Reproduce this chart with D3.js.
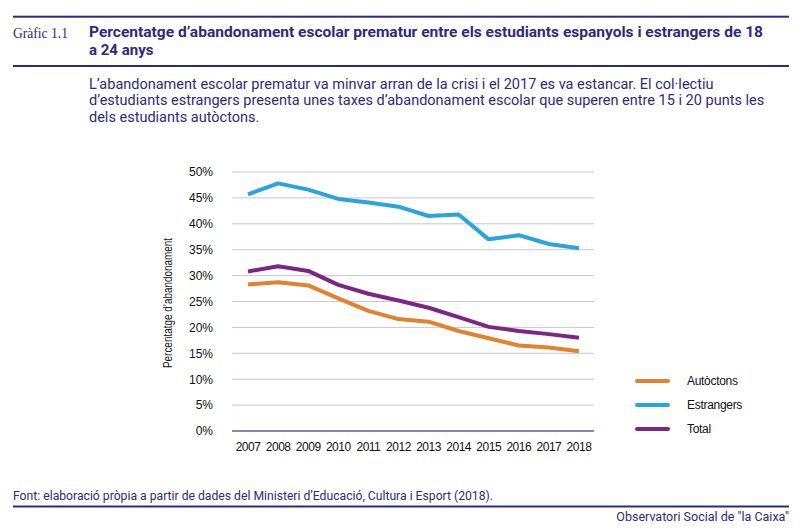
<!DOCTYPE html>
<html>
<head>
<meta charset="utf-8">
<script src="https://cdn.jsdelivr.net/npm/d3@7"></script>
<style>
  body { margin: 0; background: #fff; }
  svg { display: block; }
</style>
</head>
<body>
<div id="chart"></div>
<script>
// data
var years = ["2007", "2008", "2009", "2010", "2011", "2012", "2013", "2014", "2015", "2016", "2017", "2018"];
var autoctons = [28.3, 28.7, 28.1, 25.6, 23.2, 21.6, 21.1, 19.3, 17.9, 16.5, 16.1, 15.4];
var estrangers = [45.7, 47.8, 46.6, 44.8, 44.1, 43.3, 41.5, 41.8, 37.0, 37.8, 36.1, 35.3];
var total = [30.8, 31.8, 30.9, 28.2, 26.5, 25.2, 23.8, 22.0, 20.1, 19.3, 18.7, 18.0];
var yTicks = [0, 5, 10, 15, 20, 25, 30, 35, 40, 45, 50];
var seriesNames = ["Autòctons", "Estrangers", "Total"];
var seriesColors = ["#e4812c", "#2aa4de", "#7b2683"];

var width = 800, height = 531;
var navy = "#2d2a7e";
var sans = "Roboto, 'Liberation Sans', sans-serif";

var svg = d3.select("#chart").append("svg")
	.attr("width", width)
	.attr("height", height);

// header
svg.append("rect").attr("x", 13).attr("y", 15.7).attr("width", 776).attr("height", 2).attr("fill", navy);
svg.append("rect").attr("x", 13).attr("y", 65).attr("width", 776).attr("height", 2).attr("fill", navy);

svg.append("text")
	.attr("x", 13).attr("y", 37.5)
	.attr("textLength", 55)
	.attr("lengthAdjust", "spacingAndGlyphs")
	.style("font-family", "'Liberation Serif', 'DejaVu Serif', serif")
	.style("font-size", "14px")
	.style("fill", navy)
	.text("Gràfic 1.1");

var title = svg.append("text")
	.style("font-family", sans)
	.style("font-weight", "bold")
	.style("font-size", "15px")
	.style("fill", navy);
title.append("tspan").attr("x", 89).attr("y", 37)
	.attr("textLength", 674).attr("lengthAdjust", "spacingAndGlyphs")
	.text("Percentatge d’abandonament escolar prematur entre els estudiants espanyols i estrangers de 18");
title.append("tspan").attr("x", 89).attr("y", 55).text("a 24 anys");

var sub = svg.append("text")
	.style("font-family", sans)
	.style("font-size", "14.5px")
	.style("fill", navy);
[
	"L’abandonament escolar prematur va minvar arran de la crisi i el 2017 es va estancar. El col·lectiu",
	"d’estudiants estrangers presenta unes taxes d’abandonament escolar que superen entre 15 i 20 punts les",
	"dels estudiants autòctons."
].forEach(function(t, i) {
	sub.append("tspan").attr("x", 89).attr("y", 88.5 + i * 16.5).text(t);
});

// chart
var x = d3.scaleBand()
	.domain(years)
	.range([233, 594]);

var y = d3.scaleLinear()
	.domain([0, 50])
	.range([431, 172]);

var grid = svg.append("g");
grid.selectAll("line")
	.data(yTicks.filter(function(d) { return d > 0; }))
	.enter().append("line")
	.attr("x1", 232).attr("x2", 594)
	.attr("y1", function(d) { return y(d); })
	.attr("y2", function(d) { return y(d); })
	.attr("stroke", "#c8c4e0")
	.attr("stroke-width", 1);

svg.append("line")
	.attr("x1", 232).attr("x2", 594)
	.attr("y1", y(0)).attr("y2", y(0))
	.attr("stroke", "#8c82bb")
	.attr("stroke-width", 2);

var yAxis = svg.append("g")
	.attr("transform", "translate(213,0)")
	.call(d3.axisLeft(y).tickValues(yTicks).tickSize(0).tickFormat(function(d) { return d + "%"; }));
yAxis.select(".domain").remove();
yAxis.selectAll("text")
	.attr("x", 0)
	.style("font-family", "'Liberation Sans', Arial, sans-serif")
	.style("font-size", "12px")
	.style("fill", "#111");

var xAxis = svg.append("g")
	.attr("transform", "translate(0," + 440 + ")")
	.call(d3.axisBottom(x).tickSize(0));
xAxis.select(".domain").remove();
xAxis.selectAll("text")
	.attr("y", 0)
	.attr("dy", "0.9em")
	.style("font-family", "'Liberation Sans', Arial, sans-serif")
	.style("font-size", "12px")
	.style("letter-spacing", "-0.5px")
	.style("fill", "#111");

svg.append("text")
	.attr("transform", "translate(172,303) rotate(-90)")
	.attr("x", -65)
	.attr("textLength", 130)
	.attr("lengthAdjust", "spacingAndGlyphs")
	.style("font-family", "'Liberation Sans', sans-serif")
	.style("font-size", "12px")
	.style("fill", "#111")
	.text("Percentatge d’abandonament");

var line = d3.line()
	.x(function(d, i) { return x(years[i]) + x.bandwidth() / 2; })
	.y(function(d) { return y(d); });

[autoctons, estrangers, total].forEach(function(s, i) {
	svg.append("path")
		.attr("d", line(s))
		.attr("fill", "none")
		.attr("stroke", seriesColors[i])
		.attr("stroke-width", 4)
		.attr("stroke-linejoin", "round");
});

// legend
seriesNames.forEach(function(n, i) {
	var ly = 381 + i * 24;
	svg.append("line")
		.attr("x1", 637).attr("x2", 668)
		.attr("y1", ly).attr("y2", ly)
		.attr("stroke", seriesColors[i])
		.attr("stroke-width", 4)
		.attr("stroke-linecap", "round");
	svg.append("text")
		.attr("x", 687).attr("y", ly + 4)
		.style("font-family", "'Liberation Sans', sans-serif")
		.style("font-size", "12px")
		.style("letter-spacing", "-0.3px")
		.style("fill", "#111")
		.text(n);
});

// footer
svg.append("text")
	.attr("x", 13).attr("y", 500)
	.attr("textLength", 480)
	.attr("lengthAdjust", "spacingAndGlyphs")
	.style("font-family", sans)
	.style("font-size", "12.5px")
	.style("fill", navy)
	.text("Font: elaboració pròpia a partir de dades del Ministeri d’Educació, Cultura i Esport (2018).");

svg.append("rect").attr("x", 13).attr("y", 505.5).attr("width", 776).attr("height", 2).attr("fill", navy);

svg.append("text")
	.attr("x", 789).attr("y", 521)
	.style("font-family", sans)
	.style("font-size", "12.5px")
	.style("text-anchor", "end")
	.style("fill", navy)
	.text("Observatori Social de \"la Caixa\"");
</script>
</body>
</html>
